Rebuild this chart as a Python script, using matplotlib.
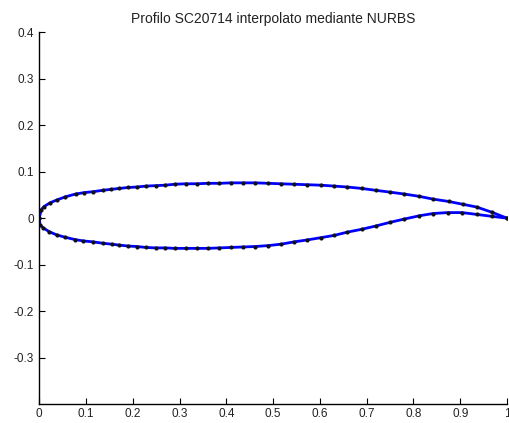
import matplotlib
matplotlib.use("Agg")
import matplotlib.pyplot as plt

title = "Profilo SC20714 interpolato mediante NURBS"

x_upper = [0.0, 0.004, 0.010, 0.023, 0.037, 0.056, 0.078, 0.096, 0.115, 0.136,
           0.153, 0.171, 0.190, 0.208, 0.228, 0.249, 0.269, 0.290, 0.313, 0.337,
           0.360, 0.385, 0.410, 0.436, 0.462, 0.490, 0.517, 0.545, 0.572, 0.602,
           0.631, 0.659, 0.689, 0.719, 0.750, 0.780, 0.812, 0.842, 0.875, 0.905,
           0.935, 0.967, 1.000]
y_upper = [0.0, 0.018, 0.025, 0.033, 0.039, 0.046, 0.052, 0.055, 0.057, 0.060,
           0.062, 0.064, 0.066, 0.067, 0.069, 0.070, 0.071, 0.073, 0.074, 0.074,
           0.075, 0.075, 0.076, 0.076, 0.076, 0.075, 0.074, 0.073, 0.072, 0.071,
           0.069, 0.067, 0.064, 0.060, 0.056, 0.052, 0.047, 0.041, 0.036, 0.030,
           0.024, 0.013, 0.000]

x_lower = [0.0, 0.0015, 0.0085, 0.021, 0.037, 0.055, 0.076, 0.094, 0.115, 0.136,
           0.155, 0.171, 0.190, 0.208, 0.228, 0.249, 0.269, 0.290, 0.314, 0.337,
           0.360, 0.385, 0.410, 0.436, 0.462, 0.490, 0.517, 0.545, 0.572, 0.602,
           0.631, 0.659, 0.689, 0.719, 0.750, 0.780, 0.812, 0.842, 0.873, 0.904,
           0.936, 0.967, 1.000]
y_lower = [0.0, -0.014, -0.021, -0.029, -0.036, -0.041, -0.046, -0.049, -0.051, -0.054,
           -0.056, -0.058, -0.060, -0.061, -0.063, -0.064, -0.064, -0.065, -0.065, -0.065,
           -0.065, -0.064, -0.063, -0.062, -0.061, -0.059, -0.056, -0.051, -0.047, -0.042,
           -0.037, -0.030, -0.024, -0.017, -0.009, -0.002, 0.005, 0.010, 0.012, 0.012,
           0.008, 0.004, 0.000]

x_ticks = [0, 0.1, 0.2, 0.3, 0.4, 0.5, 0.6, 0.7, 0.8, 0.9, 1]
x_tick_labels = ["0", "0.1", "0.2", "0.3", "0.4", "0.5", "0.6", "0.7", "0.8", "0.9", "1"]
y_ticks = [-0.3, -0.2, -0.1, 0, 0.1, 0.2, 0.3, 0.4]
y_tick_labels = ["-0.3", "-0.2", "-0.1", "0", "0.1", "0.2", "0.3", "0.4"]

plt.rcParams['font.family'] = ['Liberation Sans', 'DejaVu Sans']

fig = plt.figure(figsize=(5.09, 4.23), dpi=100)
ax = fig.add_axes([0.0772, 0.0449, 0.9188, 0.8787])

for xs, ys in ((x_upper, y_upper), (x_lower, y_lower)):
    ax.plot(xs, ys, color='#0000ff', lw=2.0, solid_joinstyle='round')
    ax.plot(xs, ys, ls='none', marker='o', ms=3.0, mfc='#111111', mec='#111111', mew=0)

ax.set_xlim(0, 1)
ax.set_ylim(-0.4, 0.4)
ax.set_xticks(x_ticks)
ax.set_xticklabels(x_tick_labels)
ax.set_yticks(y_ticks)
ax.set_yticklabels(y_tick_labels)
ax.spines['top'].set_visible(False)
ax.spines['right'].set_visible(False)
for s in ('left', 'bottom'):
    ax.spines[s].set_linewidth(1.0)
    ax.spines[s].set_color('black')
ax.tick_params(axis='both', direction='in', length=4, width=0.8, labelsize=8.5,
               colors='black', labelcolor='#222222')
ax.tick_params(axis='x', pad=3)
ax.tick_params(axis='y', pad=4)
ax.set_title(title, fontsize=10, pad=7, color='#222222')

fig.savefig("out.png", dpi=100)
